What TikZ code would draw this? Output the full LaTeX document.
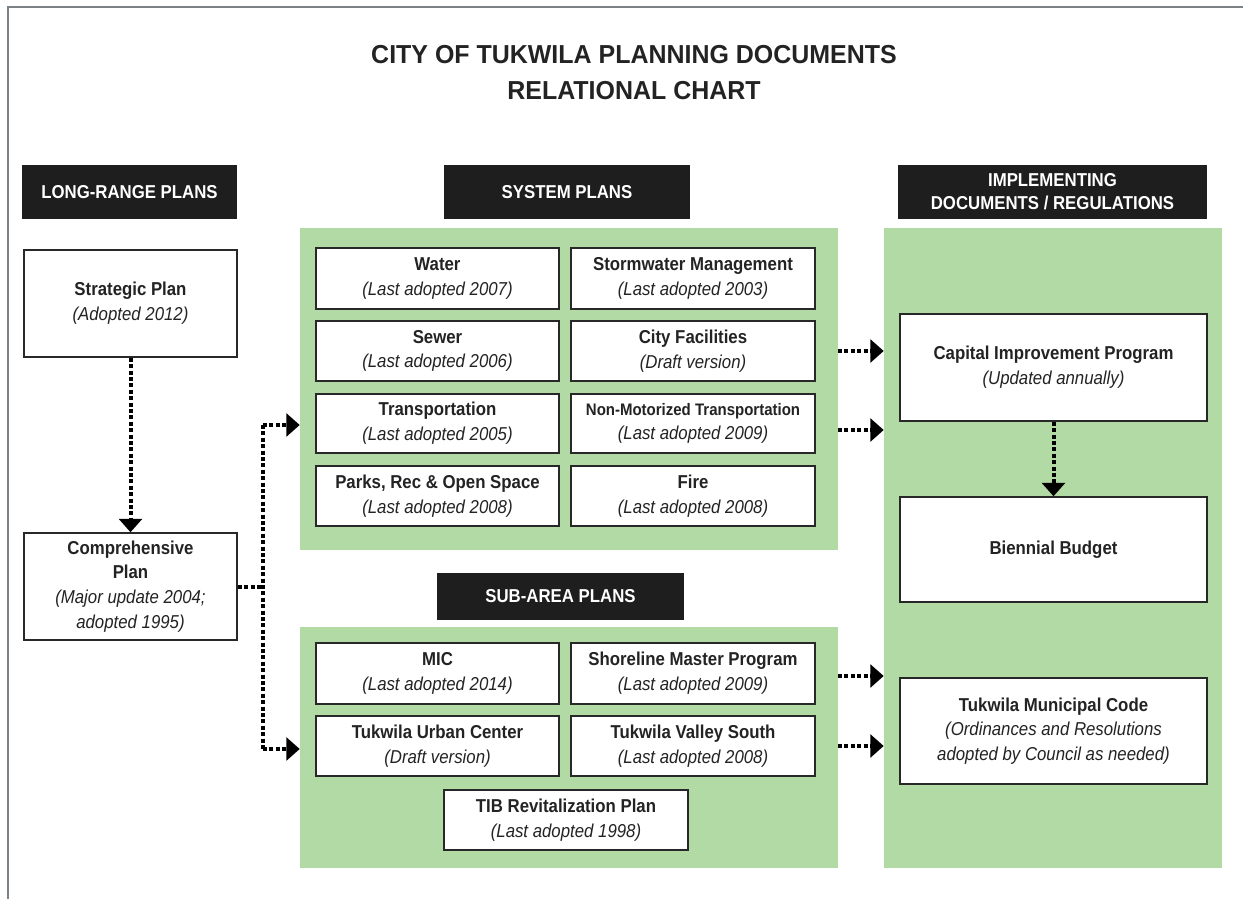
\documentclass[tikz,border=0pt]{standalone}
\usepackage{fontspec}
\setmainfont{Liberation Sans}[FakeStretch=0.9]
\newfontfamily\titlefont{Liberation Sans}[FakeStretch=0.96]
\usetikzlibrary{arrows.meta}
\definecolor{panelgreen}{RGB}{178,218,164}
\definecolor{hdrblack}{RGB}{30,30,30}
\definecolor{framegray}{RGB}{125,130,135}
\definecolor{boxline}{RGB}{40,40,40}
\definecolor{txt}{RGB}{35,35,35}
\newcommand\pbox[7][]{\node[#1, minimum width={(#5-#3)*0.75pt}, minimum height={(#6-#4)*0.75pt}] (#2) at ({(#3+#5)/2},{(#4+#6)/2}) {#7};}
\newcommand\tw[2]{{\bfseries #1}\\{\itshape #2}}
\begin{document}
\begin{tikzpicture}[x=0.75pt,y=-0.75pt,
  panel/.style={fill=panelgreen, draw=none, inner sep=0pt},
  hdrbox/.style={fill=hdrblack, text=white, inner sep=0pt, align=center,
    font=\bfseries\fontsize{14}{17}\selectfont},
  plan/.style={draw=boxline, line width=1.1pt, fill=white, inner sep=0pt, align=center,
    text=txt, font=\fontsize{14}{18.5}\selectfont},
  dotl/.style={line width=3pt, dash pattern=on 3pt off 1.8pt, black},
  darr/.style={dotl, -{Triangle[length=10pt,width=17pt]}}]
\useasboundingbox (0,0) rectangle (1253,899);
% frame
\draw[framegray, line width=1.6pt] (8,899) -- (8,7) -- (1243,7);
% title
\node[text=txt, align=center, font=\titlefont\bfseries\fontsize{19.5}{27}\selectfont] (title) at (634,73)
  {CITY OF TUKWILA PLANNING DOCUMENTS\\RELATIONAL CHART};
% panels
\pbox[panel]{sysp}{300}{228}{838}{550}{}
\pbox[panel]{subp}{300}{627}{838}{868}{}
\pbox[panel]{impl}{884}{228}{1222}{868}{}
% headers
\pbox[hdrbox]{hlong}{22}{165}{237}{219}{LONG-RANGE PLANS}
\pbox[hdrbox]{hsys}{444}{165}{690}{219}{SYSTEM PLANS}
\pbox[hdrbox]{himpl}{898}{165}{1207}{219}{IMPLEMENTING\\DOCUMENTS / REGULATIONS}
\pbox[hdrbox]{hsub}{437}{573}{684}{620}{SUB-AREA PLANS}
% long range
\pbox[plan]{strat}{24}{250}{237}{357}{\tw{Strategic Plan}{(Adopted 2012)}}
\pbox[plan]{comp}{24}{533}{237}{640}{{\bfseries Comprehensive}\\{\bfseries Plan}\\{\itshape (Major update 2004;}\\{\itshape adopted 1995)}}
% system plans
\pbox[plan]{water}{316}{248}{559}{309}{\tw{Water}{(Last adopted 2007)}}
\pbox[plan]{storm}{571}{248}{815}{309}{\tw{Stormwater Management}{(Last adopted 2003)}}
\pbox[plan]{sewer}{316}{321}{559}{381}{\tw{Sewer}{(Last adopted 2006)}}
\pbox[plan]{facil}{571}{321}{815}{381}{\tw{City Facilities}{(Draft version)}}
\pbox[plan]{trans}{316}{394}{559}{453}{\tw{Transportation}{(Last adopted 2005)}}
\pbox[plan]{nonmot}{571}{394}{815}{453}{\tw{\fontsize{12.5}{18.5}\selectfont Non-Motorized Transportation}{(Last adopted 2009)}}
\pbox[plan]{parks}{316}{466}{559}{526}{\tw{Parks, Rec \& Open Space}{(Last adopted 2008)}}
\pbox[plan]{fire}{571}{466}{815}{526}{\tw{Fire}{(Last adopted 2008)}}
% sub-area plans
\pbox[plan]{mic}{316}{643}{559}{704}{\tw{MIC}{(Last adopted 2014)}}
\pbox[plan]{shore}{571}{643}{815}{704}{\tw{Shoreline Master Program}{(Last adopted 2009)}}
\pbox[plan]{tuc}{316}{716}{559}{776}{\tw{Tukwila Urban Center}{(Draft version)}}
\pbox[plan]{tvs}{571}{716}{815}{776}{\tw{Tukwila Valley South}{(Last adopted 2008)}}
\pbox[plan]{tib}{444}{790}{688}{850}{\tw{TIB Revitalization Plan}{(Last adopted 1998)}}
% implementing
\pbox[plan]{cip}{900}{314}{1207}{421}{\tw{Capital Improvement Program}{(Updated annually)}}
\pbox[plan]{bud}{900}{497}{1207}{602}{{\bfseries Biennial Budget}}
\pbox[plan]{tmc}{900}{678}{1207}{784}{{\bfseries Tukwila Municipal Code}\\{\itshape (Ordinances and Resolutions}\\{\itshape adopted by Council as needed)}}
% connectors
\draw[darr] (strat.south) -- (comp.north);
\draw[darr] (cip.south) -- (bud.north);
\coordinate (jm) at (263,587);
\coordinate (jt) at (263,425);
\coordinate (jb) at (263,749);
\draw[dotl] (comp.east |- jm) -- (jm);
\draw[dotl] (jt) -- (jb);
\draw[darr] (jt) -- (jt -| sysp.west);
\draw[darr] (jb) -- (jb -| subp.west);
\coordinate (r1) at (838,351);
\coordinate (r2) at (838,430);
\coordinate (r3) at (838,676);
\coordinate (r4) at (838,746);
\draw[darr] (r1) -- (r1 -| impl.west);
\draw[darr] (r2) -- (r2 -| impl.west);
\draw[darr] (r3) -- (r3 -| impl.west);
\draw[darr] (r4) -- (r4 -| impl.west);
\end{tikzpicture}
\end{document}
